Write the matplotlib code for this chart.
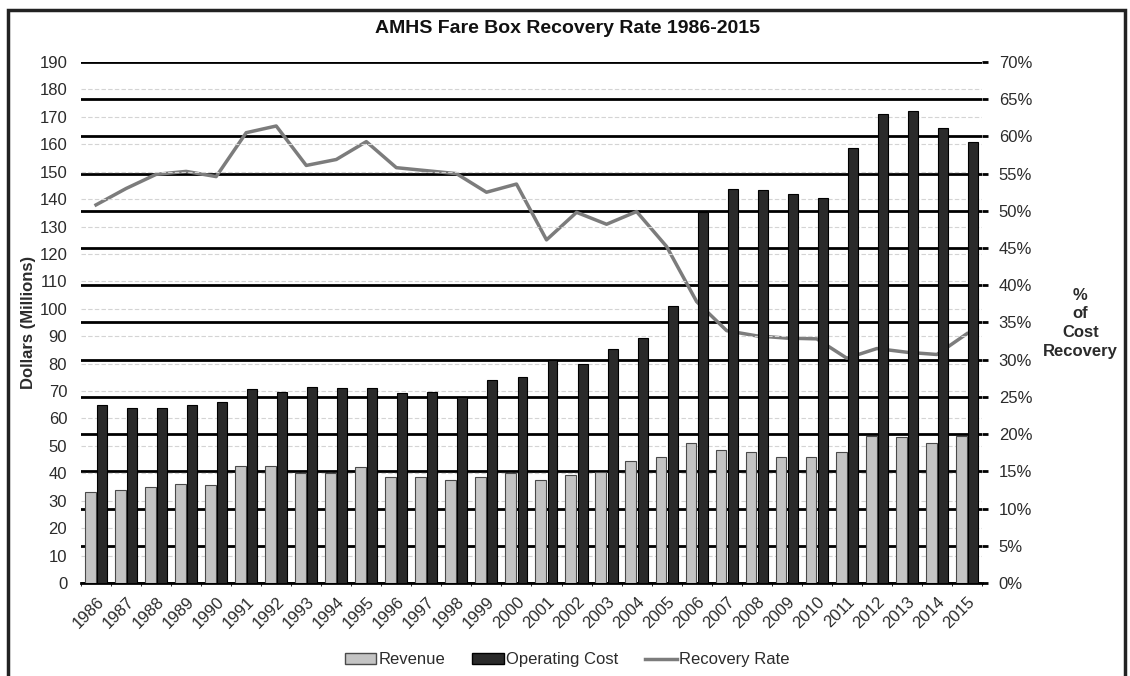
import numpy as np
import matplotlib
matplotlib.use('Agg')
import matplotlib.pyplot as plt
from matplotlib.patches import Patch, Rectangle
from matplotlib.lines import Line2D

plt.rcParams['font.family'] = ['Liberation Sans', 'DejaVu Sans']

# values
years = [str(y) for y in range(1986, 2016)]
revenue = [33.3, 33.9, 35.1, 36.1, 35.8, 42.7, 42.7, 40.2, 40.2, 42.2,
           38.8, 38.8, 37.6, 38.8, 40.0, 37.6, 39.4, 40.6, 44.6, 45.8,
           51.2, 48.5, 47.7, 46.1, 46.0, 47.9, 53.6, 53.1, 50.9, 53.6]
operating_cost = [64.9, 63.9, 63.9, 64.9, 66.1, 70.6, 69.8, 71.6, 71.0, 71.0,
                  69.4, 69.8, 67.9, 74.0, 75.2, 81.3, 79.7, 85.5, 89.5, 101.1,
                  135.4, 143.6, 143.3, 141.8, 140.5, 158.6, 171.2, 172.3, 166.1, 161.0]
recovery_rate = [50.8, 53.0, 54.9, 55.3, 54.6, 60.5, 61.4, 56.1, 56.9, 59.3,
                 55.8, 55.4, 55.0, 52.5, 53.6, 46.1, 49.8, 48.2, 49.9, 45.2,
                 37.8, 33.9, 33.2, 32.9, 32.8, 30.2, 31.5, 31.0, 30.7, 33.5]

REV_COLOR = '#c4c4c4'
OP_COLOR = '#2a2a2a'
LINE_COLOR = '#7c7c7c'
TEXT_COLOR = '#2b2b2b'

fig = plt.figure(figsize=(11.3, 6.76), dpi=100)
ax = fig.add_axes([0.0717, 0.1376, 0.7973, 0.7707])
ax2 = ax.twinx()

# bars go on the left axis, which sits above the right one
ax.set_zorder(2)
ax2.set_zorder(1)
ax.patch.set_visible(False)

x = np.arange(len(years))

# right axis: thick black grid, category lines and the recovery line
ax2.set_ylim(0, 70)
ax2.set_yticks(np.arange(0, 71, 5))
ax2.set_yticklabels([f'{p}%' for p in range(0, 71, 5)])
ax2.yaxis.grid(True, color='black', linewidth=2.0)
ax2.set_xticks(np.arange(-0.5, len(years), 1), minor=True)
ax2.xaxis.grid(True, which='minor', color='#cfcfcf', linewidth=0.9)
ax2.set_axisbelow(True)
ax2.plot(x, recovery_rate, color=LINE_COLOR, linewidth=2.5, zorder=3)
ax2.tick_params(axis='y', length=4, width=2, pad=8, labelsize=12, labelcolor=TEXT_COLOR)

# left axis: dollars
ax.bar(x - 0.19, revenue, width=0.36, color=REV_COLOR, edgecolor='#4a4a4a', linewidth=0.8, zorder=3)
ax.bar(x + 0.2, operating_cost, width=0.33, color=OP_COLOR, edgecolor='black', linewidth=0.8, zorder=3)
ax.set_ylim(0, 190)
ax.set_xlim(-0.5, len(years) - 0.5)
ax.set_yticks(np.arange(0, 191, 10))
ax.yaxis.grid(True, color='#d4d4d4', linewidth=0.8, linestyle=(0, (4, 2)))
# top and bottom coincide with the black lines of the right axis
gl = ax.get_ygridlines()
gl[0].set_visible(False)
gl[-1].set_visible(False)
ax.set_xticks(x)
ax.set_xticklabels(years, rotation=45, ha='right', rotation_mode='anchor')
ax.tick_params(axis='y', length=0, pad=10, labelsize=12, labelcolor=TEXT_COLOR)
ax.tick_params(axis='x', length=0, pad=8, labelsize=12, labelcolor=TEXT_COLOR)
ax.set_ylabel('Dollars (Millions)', fontsize=12, fontweight='bold', color=TEXT_COLOR, labelpad=2)

for a in (ax, ax2):
    for side in ('top', 'left', 'right'):
        a.spines[side].set_visible(False)
ax.spines['bottom'].set_visible(False)
ax2.spines['bottom'].set_linewidth(2.0)

fig.text(0.502, 0.958, 'AMHS Fare Box Recovery Rate 1986-2015', ha='center', va='center',
         fontsize=14, fontweight='bold', color='#111111')
fig.text(0.956, 0.522, '%\nof\nCost\nRecovery', ha='center', va='center',
         fontsize=12, fontweight='bold', color=TEXT_COLOR, linespacing=1.3)

handles = [Patch(facecolor=REV_COLOR, edgecolor='#4a4a4a'),
           Patch(facecolor=OP_COLOR, edgecolor='black'),
           Line2D([0], [0], color=LINE_COLOR, linewidth=2.5)]
fig.legend(handles, ['Revenue', 'Operating Cost', 'Recovery Rate'], loc='center',
           bbox_to_anchor=(0.502, 0.024), ncol=3, frameon=False, fontsize=12,
           handlelength=1.9, handleheight=0.6, handletextpad=0.15, columnspacing=1.6,
           labelcolor=TEXT_COLOR)

# outer frame, cut off at the bottom like the scan
fig.patches.append(Rectangle((8 / 1130, -0.05), (1125 - 8) / 1130, 1.05 - 10 / 676,
                             transform=fig.transFigure, fill=False,
                             edgecolor='#222222', linewidth=2.5))

fig.savefig('out.png', dpi=100)
